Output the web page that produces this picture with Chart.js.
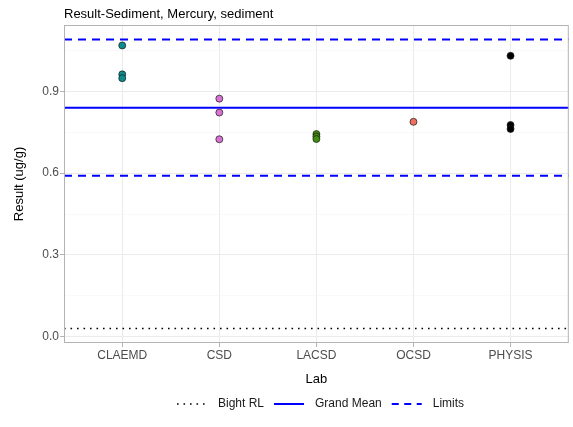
<!DOCTYPE html>
<html>
<head>
<meta charset="utf-8">
<script src="https://cdn.jsdelivr.net/npm/chart.js@4"></script>
<style>
  html, body { margin: 0; padding: 0; background: #fff; }
  #wrap { width: 573px; height: 427px; }
</style>
</head>
<body>
<div id="wrap"><canvas id="chart" width="573" height="427"></canvas></div>
<script>
// values
const labs = ["CLAEMD", "CSD", "LACSD", "OCSD", "PHYSIS"];
const claemd = [1.068, 0.962, 0.948];
const csd = [0.873, 0.822, 0.724];
const lacsd = [0.743, 0.734, 0.725];
const ocsd = [0.788];
const physis = [1.030, 0.776, 0.762];
const labColors = ["#0B8B8B", "#D872D2", "#3F8F0C", "#EE7060", "#000000"];

const bightRL = 0.03;
const grandMean = 0.84;
const limits = [0.59, 1.09];

const yMajor = [0, 0.3, 0.6, 0.9];
const yMinor = [0.15, 0.45, 0.75, 1.05];

const FONT = "'Liberation Sans', Arial, sans-serif";
const xMin = -0.6, xMax = labs.length - 1 + 0.6;
const yMin = -0.023, yMax = 1.143;

const labResults = [claemd, csd, lacsd, ocsd, physis];

const pointSets = labResults.map((vals, i) => ({
  type: "scatter",
  label: labs[i],
  data: vals.map(v => ({ x: i, y: v })),
  pointRadius: 3.5,
  pointHoverRadius: 3.5,
  backgroundColor: labColors[i],
  borderColor: "#1a1a1a",
  borderWidth: 0.7,
  order: 1
}));

function hline(name, value, color, width, dash) {
  return {
    type: "line",
    label: name,
    data: [{ x: xMin, y: value }, { x: xMax, y: value }],
    borderColor: color,
    borderWidth: width,
    borderDash: dash,
    pointRadius: 0,
    fill: false,
    order: 2
  };
}

const lineSets = [
  hline("Bight RL", bightRL, "#000000", 1.6, [1.6, 4.9]),
  hline("Grand Mean", grandMean, "#0000FF", 2, []),
  hline("Limits", limits[0], "#0000FF", 2, [8, 6]),
  hline("Limits", limits[1], "#0000FF", 2, [8, 6])
];

const legendItems = [
  { text: "Bight RL", color: "#000000", width: 1.6, dash: [1.6, 4.9] },
  { text: "Grand Mean", color: "#0000FF", width: 2, dash: [] },
  { text: "Limits", color: "#0000FF", width: 2, dash: [7, 5.5] }
];

const decor = {
  id: "decor",
  afterDraw(chart) {
    const ctx = chart.ctx;
    const a = chart.chartArea;
    ctx.save();
    // panel border
    ctx.strokeStyle = "#B3B3B3";
    ctx.lineWidth = 1;
    ctx.strokeRect(a.left + 0.5, a.top + 0.5, a.right - a.left - 1, a.bottom - a.top - 1);
    // title
    ctx.fillStyle = "#000";
    ctx.font = "13px " + FONT;
    ctx.textBaseline = "middle";
    ctx.textAlign = "left";
    ctx.fillText("Result-Sediment, Mercury, sediment", a.left, 14);
    // legend
    ctx.font = "12px " + FONT;
    const keyW = 30, gapKey = 11, gapItem = 10;
    let total = 0;
    legendItems.forEach((it, i) => {
      total += keyW + gapKey + ctx.measureText(it.text).width + (i < legendItems.length - 1 ? gapItem : 0);
    });
    let x = Math.round((a.left + a.right) / 2 + 4 - total / 2);
    const y = 404;
    legendItems.forEach(it => {
      ctx.beginPath();
      ctx.setLineDash(it.dash);
      ctx.strokeStyle = it.color;
      ctx.lineWidth = it.width;
      ctx.moveTo(x, y);
      ctx.lineTo(x + keyW, y);
      ctx.stroke();
      ctx.setLineDash([]);
      x += keyW + gapKey;
      ctx.fillStyle = "#1a1a1a";
      ctx.fillText(it.text, x, y);
      x += ctx.measureText(it.text).width + gapItem;
    });
    ctx.restore();
  }
};

new Chart(document.getElementById("chart"), {
  data: { datasets: [...pointSets, ...lineSets] },
  options: {
    responsive: false,
    animation: false,
    layout: { padding: { top: 25, right: 4, left: 0, bottom: 0 } },
    plugins: {
      legend: { display: false },
      tooltip: { enabled: false },
      title: { display: false }
    },
    scales: {
      x: {
        type: "linear",
        min: xMin,
        max: xMax,
        afterBuildTicks: s => { s.ticks = labs.map((_, i) => ({ value: i })); },
        afterFit: s => { s.height = 84; },
        ticks: {
          callback: v => labs[v] ?? "",
          color: "#4D4D4D",
          font: { family: FONT, size: 12 },
          padding: 1,
          maxRotation: 0,
          autoSkip: false
        },
        grid: { color: "#EBEBEB", lineWidth: 1, tickLength: 4, tickColor: "#B3B3B3" },
        border: { display: false },
        title: {
          display: true,
          text: "Lab",
          color: "#000",
          font: { family: FONT, size: 13 },
          padding: { top: 0, bottom: 40 }
        }
      },
      y: {
        type: "linear",
        min: yMin,
        max: yMax,
        afterBuildTicks: s => {
          s.ticks = [...yMajor, ...yMinor].sort((p, q) => p - q).map(v => ({ value: v }));
        },
        afterFit: s => { s.width = 64; },
        ticks: {
          callback: v => yMajor.some(m => Math.abs(m - v) < 1e-9) ? v.toFixed(1) : "",
          color: "#4D4D4D",
          font: { family: FONT, size: 12 },
          padding: 1,
          autoSkip: false
        },
        grid: {
          color: c => yMajor.some(m => Math.abs(m - c.tick.value) < 1e-9) ? "#EBEBEB" : "#F5F5F5",
          lineWidth: c => yMajor.some(m => Math.abs(m - c.tick.value) < 1e-9) ? 1 : 0.6,
          tickLength: 4,
          tickColor: c => yMajor.some(m => Math.abs(m - c.tick.value) < 1e-9) ? "#B3B3B3" : "rgba(0,0,0,0)"
        },
        border: { display: false },
        title: {
          display: true,
          text: "Result (ug/g)",
          color: "#000",
          font: { family: FONT, size: 13 },
          padding: { top: 12, bottom: 0 }
        }
      }
    }
  },
  plugins: [decor]
});
</script>
</body>
</html>
